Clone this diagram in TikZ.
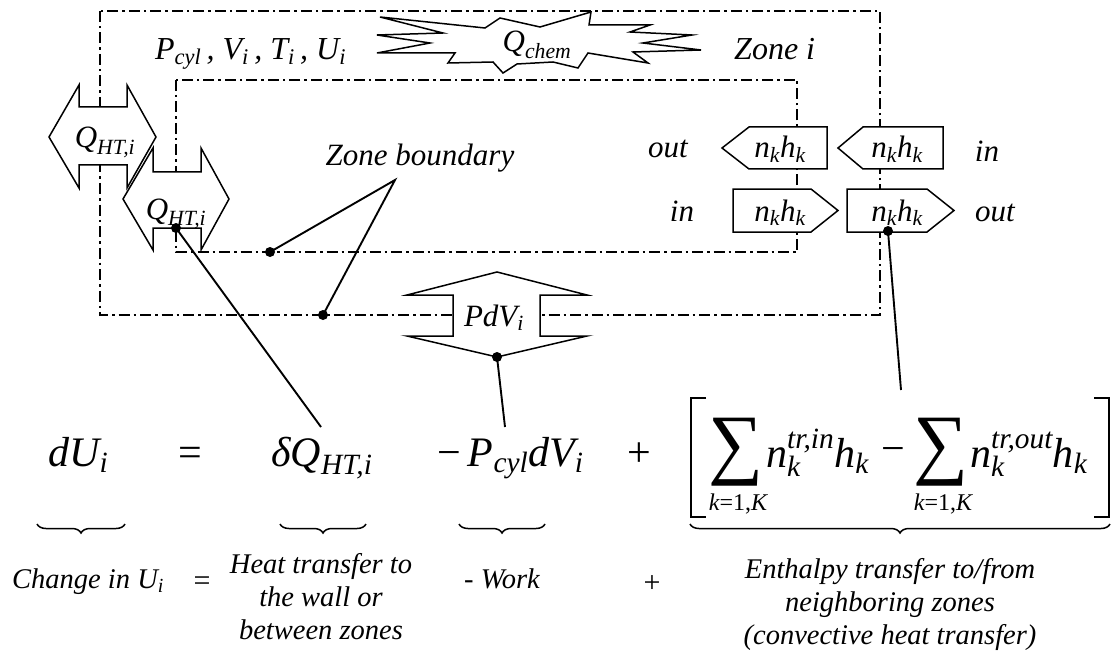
\documentclass[tikz,border=0pt]{standalone}
\usepackage{fix-cm}
\usepackage{amsmath}
\usepackage{graphicx}
\usepackage{fontspec}
\setmainfont{Liberation Serif}
\usetikzlibrary{decorations.pathreplacing}
\newcommand\mi[1]{\textit{#1}}
\tikzset{
  zoneline/.style={line width=1.5pt, dash pattern=on 11pt off 4pt on 2.5pt off 4pt},
  shapeline/.style={draw, line width=1.5pt, fill=white, line join=miter},
  leader/.style={line width=1.9pt},
  dotmark/.style={circle, fill, inner sep=0pt, minimum size=10pt},
  lbl/.style={font=\fontsize{31}{34}\selectfont\itshape, inner sep=0pt, anchor=base},
  bot/.style={font=\fontsize{28.5}{33}\selectfont\itshape, align=center, inner sep=0pt},
  eq/.style={font=\fontsize{42}{50}\selectfont, inner sep=0pt, anchor=base west},
  eqc/.style={font=\fontsize{42}{50}\selectfont, inner sep=0pt, anchor=base},
  lim/.style={font=\fontsize{24}{28}\selectfont, inner sep=0pt, anchor=base},
  brc/.style={decorate, decoration={brace, mirror, amplitude=9pt}, line width=1.5pt},
  bracket/.style={line width=2.4pt}
}
\begin{document}
\begin{tikzpicture}[x=1pt,y=-1pt]
\useasboundingbox (0,0) rectangle (1115,655);
% zone boundaries
\draw[zoneline] (100,11) rectangle (880,315);
\draw[zoneline] (176,80) rectangle (797,252);
% Q_chem burst
\draw[shapeline] (380,17) -- (485,28) -- (500,18) -- (540,27) -- (591,12) -- (589,25) -- (650,25) -- (630,32) -- (692,35) -- (643,43) -- (701,50) -- (633,52) -- (648,63) -- (588,53) -- (578,68) -- (553,62) -- (517,64) -- (503,73) -- (493,62) -- (448,63) -- (455,53) -- (377,53) -- (430,43) -- (377,35) -- (443,33) -- cycle;
\node[lbl] (qchem) at (537,52) {$\mi{Q}_{\mi{chem}}$};
% top labels
\node[lbl, anchor=base west, font=\fontsize{32}{36}\selectfont\itshape] (state) at (155,60) {$\mi{P}_{\mi{cyl}}$\,, $\mi{V}_{\mi{i}}$\,, $\mi{T}_{\mi{i}}$\,, $\mi{U}_{\mi{i}}$};
\node[lbl, anchor=base west, font=\fontsize{32}{36}\selectfont\itshape] (zonei) at (734,60) {Zone i};
% Q_HT arrows
\draw[shapeline] (49,137) -- (79,85) -- (79,107) -- (127,107) -- (127,85) -- (156,137) -- (127,188) -- (127,165) -- (79,165) -- (79,188) -- cycle;
\node[lbl] (qht1) at (105,148) {$\mi{Q}_{\mi{HT,i}}$};
\draw[shapeline] (123,199) -- (153,148) -- (153,172) -- (201,172) -- (201,148) -- (229,199) -- (201,250) -- (201,228) -- (153,228) -- (153,250) -- cycle;
\node[lbl] (qht2) at (176,219) {$\mi{Q}_{\mi{HT,i}}$};
% PdV arrow
\draw[shapeline] (497,272) -- (587,295) -- (540,295) -- (540,336) -- (587,336) -- (497,357) -- (407,336) -- (453,336) -- (453,295) -- (407,295) -- cycle;
\node[lbl] (pdv) at (494,326) {$\mi{PdV}_{\mi{i}}$};
% enthalpy boxes
\draw[shapeline] (722,148) -- (749,127) -- (827,127) -- (827,169) -- (749,169) -- cycle;
\draw[shapeline] (838,148) -- (863,127) -- (943,127) -- (943,169) -- (863,169) -- cycle;
\draw[shapeline] (733,189) -- (811,189) -- (838,210.5) -- (811,232) -- (733,232) -- cycle;
\draw[shapeline] (847,189) -- (927,189) -- (954,210.5) -- (927,232) -- (847,232) -- cycle;
\node[lbl] (nhA) at (780,158) {$\mi{n}_{\mi{k}}\mi{h}_{\mi{k}}$};
\node[lbl] (nhB) at (897,158) {$\mi{n}_{\mi{k}}\mi{h}_{\mi{k}}$};
\node[lbl] (nhC) at (780,221) {$\mi{n}_{\mi{k}}\mi{h}_{\mi{k}}$};
\node[lbl] (nhD) at (897,221) {$\mi{n}_{\mi{k}}\mi{h}_{\mi{k}}$};
\node[lbl] (out1) at (668,158) {out};
\node[lbl] (in1) at (987,162) {in};
\node[lbl] (in2) at (682,221) {in};
\node[lbl] (out2) at (995,221) {out};
% zone boundary label
\node[lbl] (zb) at (420,165) {Zone boundary};
\coordinate (zbapex) at (395,180);
\coordinate (zbdot1) at (270,252);
\coordinate (zbdot2) at (323,315);
\draw[leader] (zbdot1) -- (zbapex) -- (zbdot2);
\node[dotmark] at (zbdot1) {};
\node[dotmark] at (zbdot2) {};
% equation
\node[eq] (eqdU) at (48,466) {$\mi{dU}_{\mi{i}}$};
\node[eqc] (eqeq) at (190,466) {=};
\node[eq] (eqQ) at (271,466) {$\mi{δQ}_{\mi{HT,i}}$};
\node[eq] (eqP) at (437,466) {\textup{−}\,$\mi{P}_{\mi{cyl}}\mi{dV}_{\mi{i}}$};
\node[eqc] (eqplus) at (639,466) {+};
\draw[bracket] (706,398) -- (691,398) -- (691,517) -- (706,517);
\draw[bracket] (1094,398) -- (1109,398) -- (1109,517) -- (1094,517);
\node[inner sep=0pt] (sum1) at (736,452) {\resizebox*{55pt}{68pt}{∑}};
\node[lim] (lim1) at (738,510) {$\mi{k}$=1,$\mi{K}$};
\node[eq] (n1) at (766,467) {$\mi{n}_{\mi{k}}^{\mi{tr,in}}\mi{h}_{\mi{k}}$};
\node[eqc] (minus) at (893,462) {−};
\node[inner sep=0pt] (sum2) at (941,452) {\resizebox*{55pt}{68pt}{∑}};
\node[lim] (lim2) at (943,510) {$\mi{k}$=1,$\mi{K}$};
\node[eq] (n2) at (970,467) {$\mi{n}_{\mi{k}}^{\mi{tr,out}}\mi{h}_{\mi{k}}$};
% braces
\draw[brc] (37,524) -- (125,524);
\draw[brc] (280,524) -- (366,524);
\draw[brc] (459,524) -- (545,524);
\draw[brc] (690,524) -- (1110,524);
% bottom labels
\node[bot, anchor=base west] (lU) at (12,588) {Change in $\mi{U}_{\mi{i}}$};
\node[bot, anchor=base, font=\fontsize{30}{33}\selectfont] (leq) at (202,590) {=};
\node[bot] (lQ) at (321,597) {Heat transfer to\\the wall or\\between zones};
\node[bot, anchor=base] (lW) at (502,588) {- Work};
\node[bot, anchor=base, font=\fontsize{30}{33}\selectfont] (lplus) at (652,592) {+};
\node[bot] (lH) at (890,604) {Enthalpy transfer to/from\\neighboring zones\\(convective heat transfer)};
% leaders
\coordinate (dotQ) at (176,228);
\coordinate (endQ) at (321,427);
\coordinate (dotP) at (497,357);
\coordinate (endP) at (505,427);
\coordinate (dotN) at (888,231);
\coordinate (endN) at (901,390);
\draw[leader] (dotQ) -- (endQ);
\draw[leader] (dotP) -- (endP);
\draw[leader] (dotN) -- (endN);
\node[dotmark] at (dotQ) {};
\node[dotmark] at (dotP) {};
\node[dotmark] at (dotN) {};
\end{tikzpicture}
\end{document}
